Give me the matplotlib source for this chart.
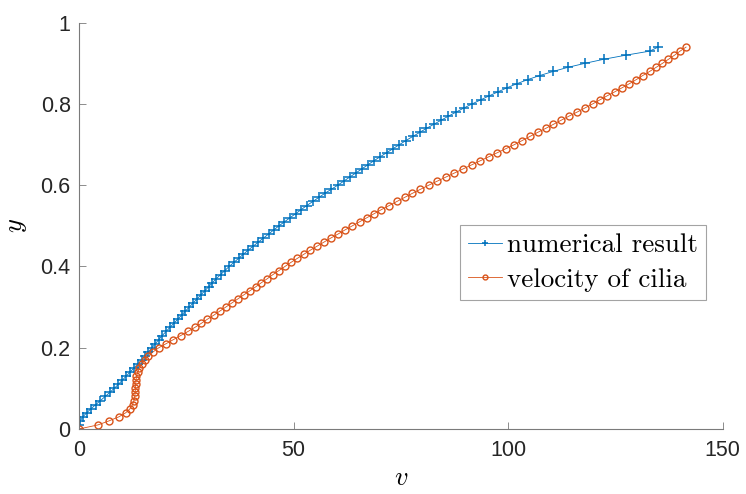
import numpy as np
import matplotlib
matplotlib.use("Agg")
import matplotlib.pyplot as plt

plt.rcParams['mathtext.fontset'] = 'cm'

# y grid (0.00 .. 0.94, step 0.01)
y_vals = np.round(np.arange(95) * 0.01, 2)

# numerical result: v at each y
v_numerical = [
    0.0, 0.1, 0.3, 0.9, 1.8, 2.8, 3.9, 5.0, 6.1, 7.2,
    8.2, 9.2, 10.1, 11.0, 11.9, 12.8, 13.7, 14.6, 15.4, 16.2,
    17.0, 17.8, 18.6, 19.4, 20.3, 21.2, 22.1, 23.0, 23.9, 24.8,
    25.7, 26.6, 27.5, 28.4, 29.3, 30.2, 31.1, 32.0, 33.0, 34.0,
    35.0, 36.1, 37.2, 38.3, 39.4, 40.6, 41.8, 43.0, 44.2, 45.4,
    46.6, 47.9, 49.2, 50.5, 51.8, 53.1, 54.5, 55.9, 57.3, 58.8,
    60.3, 61.7, 63.1, 64.5, 65.9, 67.3, 68.7, 70.2, 71.7, 73.2,
    74.7, 76.2, 77.8, 79.4, 81.0, 82.7, 84.4, 86.1, 87.9, 89.7,
    91.6, 93.6, 95.6, 97.7, 99.8, 102.1, 104.6, 107.4, 110.5, 113.9,
    117.9, 122.3, 127.4, 133.0, 135.0,
]

# velocity of cilia: v at each y
v_cilia = [
    0.0, 4.4, 7.0, 9.3, 10.9, 11.9, 12.5, 12.8, 13.0, 13.1,
    13.15, 13.2, 13.3, 13.4, 13.7, 14.1, 14.6, 15.3, 16.2, 17.3,
    18.6, 20.3, 22.0, 23.7, 25.4, 27.0, 28.5, 29.9, 31.4, 32.8,
    34.2, 35.6, 37.0, 38.4, 39.8, 41.2, 42.5, 43.9, 45.2, 46.6,
    48.0, 49.4, 50.9, 52.4, 53.9, 55.5, 57.1, 58.7, 60.4, 62.0,
    63.7, 65.4, 67.1, 68.8, 70.5, 72.3, 74.1, 75.9, 77.7, 79.6,
    81.5, 83.5, 85.5, 87.5, 89.5, 91.5, 93.5, 95.5, 97.5, 99.5,
    101.5, 103.3, 105.1, 106.9, 108.8, 110.6, 112.4, 114.2, 116.1, 117.9,
    119.7, 121.4, 123.1, 124.9, 126.6, 128.3, 129.9, 131.4, 133.0, 134.5,
    136.0, 137.4, 138.8, 140.1, 141.5,
]

labels = ["numerical result", "velocity of cilia"]
x_ticks = [0, 50, 100, 150]
y_ticks = [0, 0.2, 0.4, 0.6, 0.8, 1]
y_tick_labels = ["0", "0.2", "0.4", "0.6", "0.8", "1"]

blue = "#0072BD"
orange = "#D95319"

fig = plt.figure(figsize=(7.46, 4.94), dpi=100)
ax = fig.add_axes([0.1059, 0.1316, 0.8626, 0.8224])

ax.plot(v_numerical, y_vals, color=blue, lw=0.6, marker='+', ms=6.5,
        mew=1.1, label=labels[0])
ax.plot(v_cilia, y_vals, color=orange, lw=0.6, marker='o', ms=5,
        mfc='none', mew=1.0, label=labels[1])

ax.set_xlim(0, 150)
ax.set_ylim(0, 1)
ax.set_xticks(x_ticks)
ax.set_xticklabels([str(t) for t in x_ticks])
ax.set_yticks(y_ticks)
ax.set_yticklabels(y_tick_labels)

for s in ['top', 'right']:
    ax.spines[s].set_visible(False)
for s in ['left', 'bottom']:
    ax.spines[s].set_color('#7a7a7a')
    ax.spines[s].set_linewidth(0.8)

ax.tick_params(direction='in', length=5, width=0.6, color='#7a7a7a',
               labelsize=15.5, labelcolor='#262626')
ax.tick_params(axis='x', pad=8)
ax.tick_params(axis='y', pad=6)

for lab in ax.get_xticklabels() + ax.get_yticklabels():
    lab.set_family(['Liberation Sans', 'DejaVu Sans'])

ax.set_xlabel(r'$v$', fontsize=19, labelpad=3)
ax.set_ylabel(r'$y$', fontsize=19, labelpad=8)

leg = ax.legend(loc='lower left', bbox_to_anchor=(0.592, 0.3175),
                prop={'family': 'cmr10', 'size': 19.5}, frameon=True,
                fancybox=False, edgecolor='#8c8c8c', handlelength=1.25,
                handletextpad=0.2, borderpad=0.3, labelspacing=0.4,
                borderaxespad=0, markerscale=0.7)
leg.get_frame().set_linewidth(0.8)

fig.savefig("out.png", dpi=100)
